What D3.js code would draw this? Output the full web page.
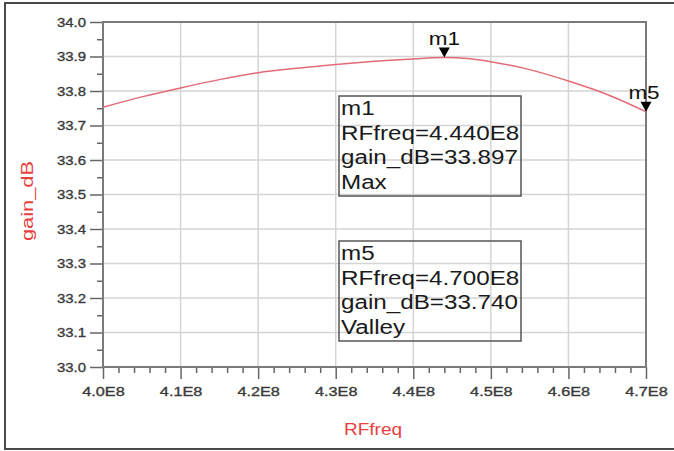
<!DOCTYPE html>
<html>
<head>
<meta charset="utf-8">
<script src="https://cdn.jsdelivr.net/npm/d3@7"></script>
<style>
  body { margin: 0; background: #fff; }
  svg { display: block; font-family: "Liberation Sans", Arial, sans-serif; }
</style>
</head>
<body>
<div id="chart"></div>
<script>
// RF frequency (Hz) and gain (dB)
var freqs = [4.00e8, 4.05e8, 4.10e8, 4.15e8, 4.20e8, 4.25e8, 4.30e8, 4.35e8, 4.40e8, 4.44e8, 4.47e8, 4.50e8, 4.55e8, 4.60e8, 4.65e8, 4.70e8];
var gains = [33.753, 33.783, 33.809, 33.833, 33.853, 33.866, 33.877, 33.886, 33.893, 33.897, 33.894, 33.885, 33.862, 33.829, 33.790, 33.740];
var xTicks = [4.0e8, 4.1e8, 4.2e8, 4.3e8, 4.4e8, 4.5e8, 4.6e8, 4.7e8];
var yTicks = [33.0, 33.1, 33.2, 33.3, 33.4, 33.5, 33.6, 33.7, 33.8, 33.9, 34.0];
var markers = [
  { name: "m1", freq: 4.44e8, gain: 33.897, kind: "Max" },
  { name: "m5", freq: 4.70e8, gain: 33.740, kind: "Valley" }
];

var width = 674, height = 451;
var margin = { top: 22, right: 28, bottom: 84, left: 103 };

var svg = d3.select("#chart").append("svg").attr("width", width).attr("height", height);

// outer frame
svg.append("rect").attr("x", 5).attr("y", 3).attr("width", 700).attr("height", 446)
  .attr("fill", "#fff").attr("stroke", "#4a4a4a").attr("stroke-width", 2);

var x = d3.scaleLinear().domain([4.0e8, 4.7e8]).range([margin.left, width - margin.right]);
var y = d3.scaleLinear().domain([33.0, 34.0]).range([height - margin.bottom, margin.top]);

// stretch text a bit horizontally, the ADS font is wide
function widen(sel, k) {
  sel.each(function () {
    var w = this.getComputedTextLength();
    d3.select(this).attr("textLength", w * k).attr("lengthAdjust", "spacingAndGlyphs");
  });
}

// grid
svg.append("g").selectAll("line.h").data(yTicks).enter().append("line")
  .attr("x1", x(4.0e8)).attr("x2", x(4.7e8))
  .attr("y1", d => y(d)).attr("y2", d => y(d))
  .attr("stroke", "#d4d4d4").attr("stroke-width", 1.5);
svg.append("g").selectAll("line.v").data(xTicks).enter().append("line")
  .attr("x1", d => x(d)).attr("x2", d => x(d))
  .attr("y1", y(33.0)).attr("y2", y(34.0))
  .attr("stroke", "#d4d4d4").attr("stroke-width", 1.5);

// minor ticks
var yMinor = d3.range(33.05, 34.0, 0.1);
var xMinor = d3.range(4.02e8, 4.7e8, 0.02e8).filter(d => Math.round(d / 1e6) % 10 != 0);

svg.append("g").attr("transform", `translate(${x(4.0e8)},0)`)
  .call(d3.axisLeft(y).tickValues(yMinor).tickSize(6).tickFormat(""))
  .call(g => g.select(".domain").remove())
  .selectAll("line").attr("stroke", "#666").attr("stroke-width", 1.5);
svg.append("g").attr("transform", `translate(0,${y(33.0)})`)
  .call(d3.axisBottom(x).tickValues(xMinor).tickSize(6).tickFormat(""))
  .call(g => g.select(".domain").remove())
  .selectAll("line").attr("stroke", "#666").attr("stroke-width", 1.5);

// major axes
var yAxis = svg.append("g").attr("transform", `translate(${x(4.0e8)},0)`)
  .call(d3.axisLeft(y).tickValues(yTicks).tickSize(13).tickPadding(4).tickFormat(d3.format(".1f")));
var xAxis = svg.append("g").attr("transform", `translate(0,${y(33.0)})`)
  .call(d3.axisBottom(x).tickValues(xTicks).tickSize(12).tickPadding(8).tickFormat(d => (d / 1e8).toFixed(1) + "E8"));

[yAxis, xAxis].forEach(function (a) {
  a.select(".domain").remove();
  a.selectAll("line").attr("stroke", "#666").attr("stroke-width", 1.5);
  a.selectAll("text").attr("fill", "#3a3a3a").attr("stroke", "#3a3a3a").attr("stroke-width", 0.35)
    .style("font-size", "13px").style("font-family", "'Liberation Sans', Arial, sans-serif");
});
widen(yAxis.selectAll("text"), 1.15);
widen(xAxis.selectAll("text"), 1.25);

// plot border
svg.append("rect").attr("x", x(4.0e8)).attr("y", y(34.0))
  .attr("width", x(4.7e8) - x(4.0e8)).attr("height", y(33.0) - y(34.0))
  .attr("fill", "none").attr("stroke", "#7a7a7a").attr("stroke-width", 2);

// curve
var line = d3.line().x((d, i) => x(freqs[i])).y((d, i) => y(gains[i])).curve(d3.curveMonotoneX);
svg.append("path").datum(gains).attr("d", line)
  .attr("fill", "none").attr("stroke", "#e36a76").attr("stroke-width", 1.5);

// axis titles
var xt = svg.append("text").attr("x", 373).attr("y", 435).attr("text-anchor", "middle")
  .attr("fill", "#e8403f").style("font-size", "17px").text("RFfreq");
widen(xt, 1.12);
var yt = svg.append("text").attr("transform", "translate(33,201) rotate(-90)").attr("text-anchor", "middle")
  .attr("fill", "#e8403f").style("font-size", "16px").text("gain_dB");
yt.attr("textLength", 80).attr("lengthAdjust", "spacingAndGlyphs");

// markers
var mk = svg.append("g").selectAll("g").data(markers).enter().append("g")
  .attr("transform", d => `translate(${x(d.freq)},${y(d.gain)})`);
mk.append("path").attr("d", "M-5.5,-10L5.5,-10L0,0Z").attr("fill", "#000");
var ml = mk.append("text").attr("x", d => d.name == "m5" ? -2 : 0).attr("y", -13).attr("text-anchor", "middle")
  .attr("fill", "#111").style("font-size", "18px").text(d => d.name);
widen(ml, 1.25);

// readout boxes
var boxTops = [96, 241];
markers.forEach(function (m, i) {
  var g = svg.append("g").attr("transform", `translate(339,${boxTops[i]})`);
  g.append("rect").attr("width", 182).attr("height", 100)
    .attr("fill", "none").attr("stroke", "#555").attr("stroke-width", 1.5);
  var lines = [m.name, "RFfreq=" + (m.freq / 1e8).toFixed(3) + "E8", "gain_dB=" + m.gain.toFixed(3), m.kind];
  var t = g.selectAll("text").data(lines).enter().append("text")
    .attr("x", 2).attr("y", (d, j) => 19 + j * 24.5)
    .attr("fill", "#1a1a1a").style("font-size", "20px").text(d => d);
  widen(t, 1.21);
});
</script>
</body>
</html>
